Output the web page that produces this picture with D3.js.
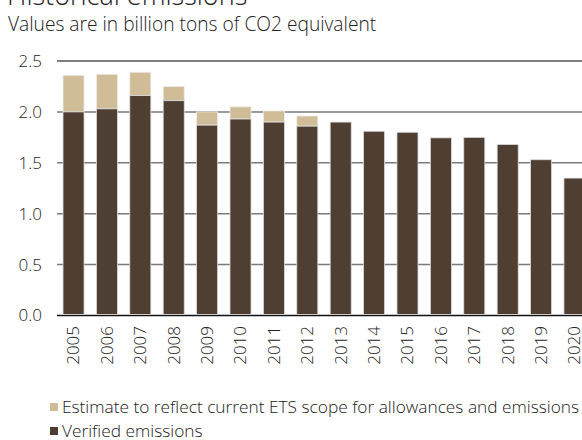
<!DOCTYPE html>
<html><head><meta charset="utf-8">
<script src="https://cdn.jsdelivr.net/npm/d3@7"></script>
<style>
body{margin:0;background:#fff;}
svg{display:block;font-family:"Open Sans","Noto Sans",sans-serif;font-weight:300;}
</style></head>
<body>
<svg id="c" width="582" height="440"></svg>
<script>
const years = ["2005","2006","2007","2008","2009","2010","2011","2012","2013","2014","2015","2016","2017","2018","2019","2020"];
const verified = [2.00,2.03,2.16,2.11,1.87,1.93,1.90,1.86,1.90,1.81,1.80,1.745,1.75,1.68,1.53,1.35];
const totals   = [2.36,2.37,2.39,2.25,2.00,2.05,2.01,1.96,1.90,1.81,1.80,1.745,1.75,1.68,1.53,1.35];
const yTicks = [0,0.5,1.0,1.5,2.0,2.5];
const legendLabels = ["Estimate to reflect current ETS scope for allowances and emissions","Verified emissions"];

const svg = d3.select("#c");
const cDark = "#4f3e32", cLight = "#d0bc97";

const y = d3.scaleLinear().domain([0,2.5]).range([315.5,61]);
const x = d3.scaleBand().domain(years).range([57,591]).paddingInner(0.37).paddingOuter(0.18);

svg.append("text").attr("x",7).attr("y",5).attr("font-size",27).attr("fill","#222").text("Historical emissions");
svg.append("text").attr("x",8).attr("y",31).attr("font-size",19.2).attr("fill","#222").text("Values are in billion tons of CO2 equivalent");

// gridlines
const grid = svg.append("g");
yTicks.forEach(t=>{
  grid.append("line").attr("x1",57).attr("x2",582).attr("y1",y(t)).attr("y2",y(t))
    .attr("stroke", t===0 ? "#111" : (t===2.5 ? "#555" : "#7a7a7a")).attr("stroke-width",1.5);
});
// y labels
const yAxis = d3.axisLeft(y).tickValues(yTicks).tickFormat(d3.format(".1f")).tickSize(0).tickPadding(0);
const ya = svg.append("g").attr("transform","translate(42,0)").call(yAxis);
ya.select(".domain").remove();
ya.selectAll("text").attr("font-size",17).attr("fill","#222").attr("font-family","Open Sans, Noto Sans, sans-serif");

// bars
const bars = svg.append("g");
years.forEach((yr,i)=>{
  if (totals[i] > verified[i]) {
    bars.append("rect").attr("x",x(yr)).attr("width",x.bandwidth())
      .attr("y",y(totals[i])).attr("height",y(verified[i])-y(totals[i]))
      .attr("fill",cLight).attr("stroke","#eee").attr("stroke-width",0.8);
  }
  bars.append("rect").attr("x",x(yr)).attr("width",x.bandwidth())
    .attr("y",y(verified[i])).attr("height",y(0)-1-y(verified[i]))
    .attr("fill",cDark).attr("stroke","#ddd").attr("stroke-width",0.8);
});

// x labels
const xAxis = d3.axisBottom(x).tickSize(0).tickPadding(0);
const xa = svg.append("g").attr("transform","translate(0,326)").call(xAxis);
xa.select(".domain").remove();
xa.selectAll("text").attr("font-size",17).attr("fill","#222").attr("font-family","Open Sans, Noto Sans, sans-serif")
  .attr("transform","rotate(-90)").attr("text-anchor","end").attr("x",0).attr("y",0).attr("dy","0.35em").attr("dx",0);

// legend
const lg = svg.append("g");
[cLight,cDark].forEach((c,i)=>{
  const yy = 407 + i*24;
  lg.append("rect").attr("x",50).attr("y",yy-4).attr("width",8).attr("height",8).attr("fill",c);
  lg.append("text").attr("x",62).attr("y",yy).attr("dy","0.35em").attr("font-size",17.3).attr("fill","#222").text(legendLabels[i]);
});
</script>
</body></html>
